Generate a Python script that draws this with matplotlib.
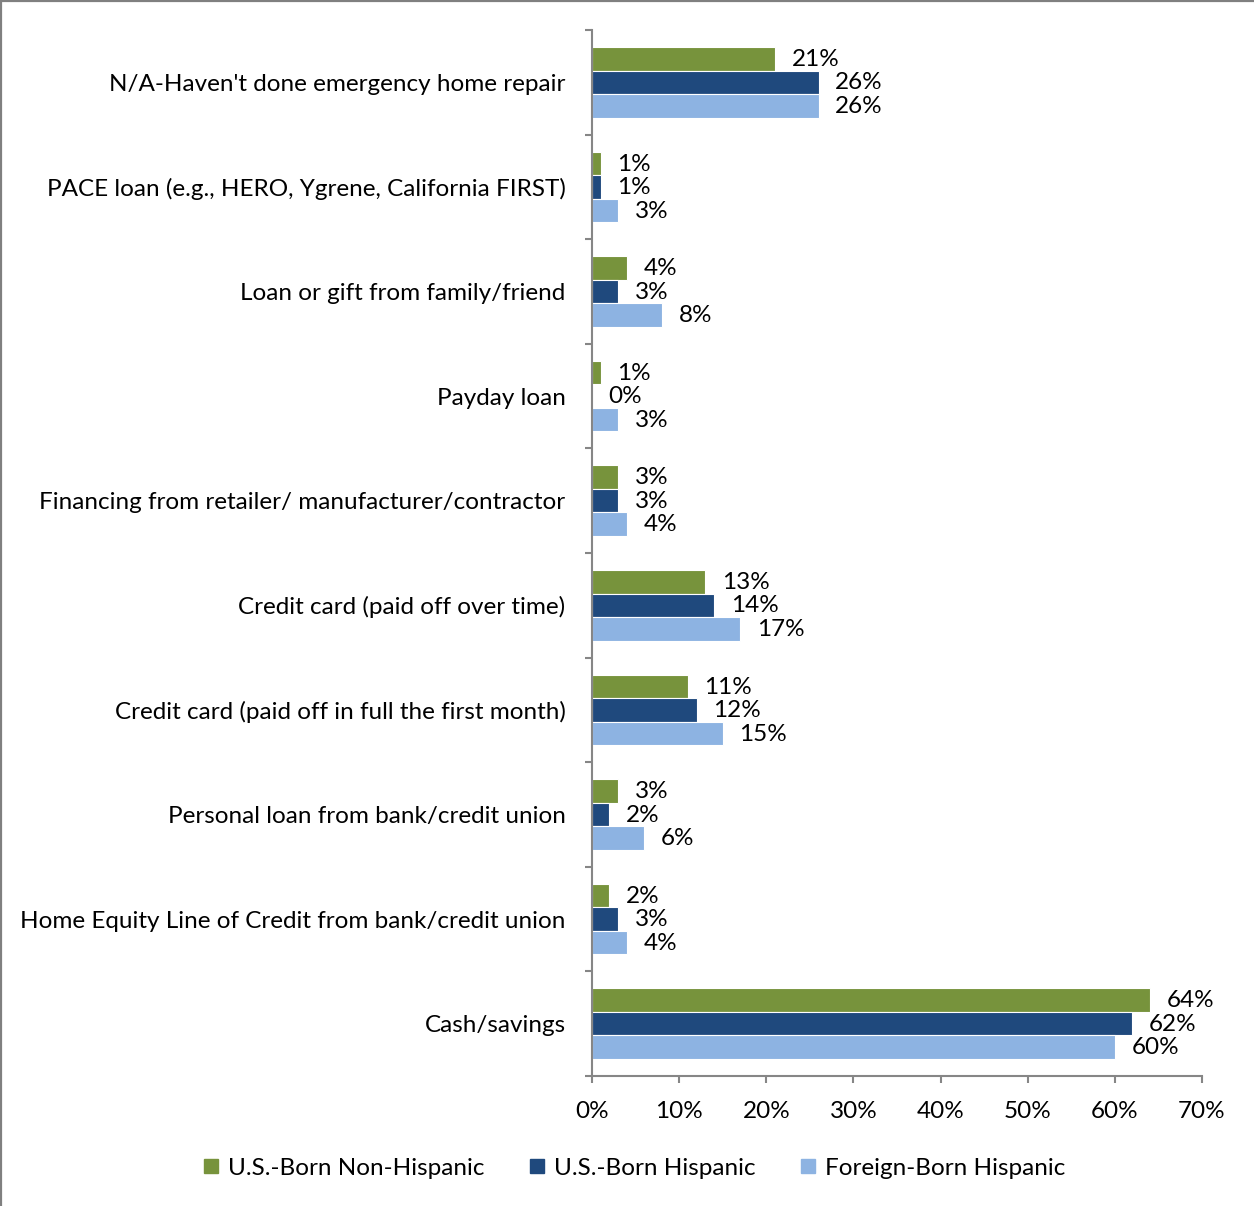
import matplotlib
matplotlib.use("Agg")
import matplotlib.pyplot as plt
from matplotlib.lines import Line2D
import numpy as np

plt.rcParams['font.family'] = ['Lato', 'DejaVu Sans']

categories = [
    "N/A-Haven't done emergency home repair",
    "PACE loan (e.g., HERO, Ygrene, California FIRST)",
    "Loan or gift from family/friend",
    "Payday loan",
    "Financing from retailer/ manufacturer/contractor",
    "Credit card (paid off over time)",
    "Credit card (paid off in full the first month)",
    "Personal loan from bank/credit union",
    "Home Equity Line of Credit from bank/credit union",
    "Cash/savings",
]
series_names = ["U.S.-Born Non-Hispanic", "U.S.-Born Hispanic", "Foreign-Born Hispanic"]
us_born_non_hispanic = [21, 1, 4, 1, 3, 13, 11, 3, 2, 64]
us_born_hispanic = [26, 1, 3, 0, 3, 14, 12, 2, 3, 62]
foreign_born_hispanic = [26, 3, 8, 3, 4, 17, 15, 6, 4, 60]
x_ticks = [0, 10, 20, 30, 40, 50, 60, 70]

colors = ["#77933C", "#1F497D", "#8DB3E2"]
series = [us_born_non_hispanic, us_born_hispanic, foreign_born_hispanic]

fig = plt.figure(figsize=(12.54, 12.06), dpi=100)
ax = fig.add_axes([592 / 1254, 1 - 1076 / 1206, 610 / 1254, 1046 / 1206])

n = len(categories)
y = np.arange(n)
bh = 0.225
fs = 17.5

for i, (vals, col, name) in enumerate(zip(series, colors, series_names)):
    pos = y + (i - 1) * bh
    ax.barh(pos, vals, height=bh, color=col, edgecolor="white", linewidth=0.8, label=name)
    for p, v in zip(pos, vals):
        ax.annotate(f"{v}%", xy=(v, p), xytext=(12, -0.5), textcoords="offset points",
                    ha="left", va="center", fontsize=fs, color="black")

ax.set_xlim(0, 70)
ax.set_ylim(n - 0.5, -0.5)
ax.set_xticks(x_ticks)
ax.set_xticklabels([f"{t}%" for t in x_ticks], fontsize=fs)
ax.set_yticks(y)
ax.set_yticklabels(categories, fontsize=fs)
ax.set_yticks(np.arange(-0.5, n, 1.0), minor=True)

spine_col = "#868686"
for s in ["top", "right"]:
    ax.spines[s].set_visible(False)
for s in ["left", "bottom"]:
    ax.spines[s].set_color(spine_col)
    ax.spines[s].set_linewidth(1.5)

ax.tick_params(axis="y", which="major", length=0, pad=19)
ax.tick_params(axis="y", which="minor", length=5, width=1.5, color=spine_col, direction="out")
ax.tick_params(axis="x", which="major", length=5, width=1.5, color=spine_col, direction="out", pad=13)

handles = [Line2D([0], [0], marker="s", linestyle="none", markersize=10.5,
                  markerfacecolor=c, markeredgecolor=c) for c in colors]
fig.legend(handles, series_names, loc="center", bbox_to_anchor=(633 / 1254, 1 - 1168 / 1206),
           ncol=3, frameon=False, fontsize=fs, handletextpad=0.3, columnspacing=1.75,
           handlelength=0.8)

# outer frame
fig.add_artist(Line2D([0, 1], [1 - 0.8 / 1206] * 2, transform=fig.transFigure, color="#808080", lw=1.6))
fig.add_artist(Line2D([1.2 / 1254] * 2, [0, 1], transform=fig.transFigure, color="#808080", lw=1.6))

fig.savefig("out.png", dpi=100, facecolor="white")
